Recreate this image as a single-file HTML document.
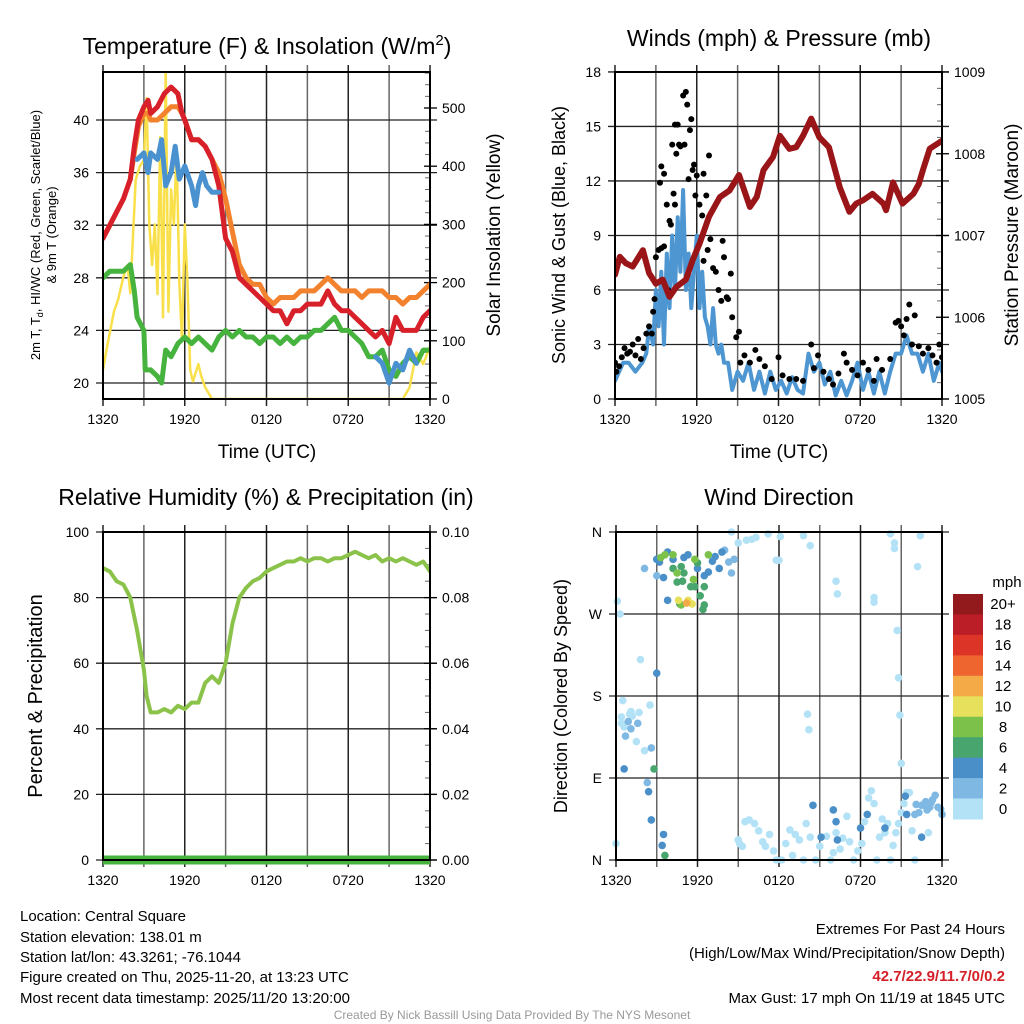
<!DOCTYPE html>
<html><head><meta charset="utf-8"><style>
html,body{margin:0;padding:0;background:#fff;}
svg{display:block;font-family:"Liberation Sans",Arial,sans-serif;}
</style></head><body>
<svg id="c" width="1024" height="1024" viewBox="0 0 1024 1024">
<text x="267" y="54" font-size="23" text-anchor="middle">Temperature (F) &amp; Insolation (W/m<tspan dy="-9" font-size="15">2</tspan><tspan dy="9">)</tspan></text>
<text x="779" y="46" font-size="23" text-anchor="middle">Winds (mph) &amp; Pressure (mb)</text>
<text x="266" y="505" font-size="23" text-anchor="middle">Relative Humidity (%) &amp; Precipitation (in)</text>
<text x="779" y="505" font-size="23" text-anchor="middle">Wind Direction</text>
<g id="layer"></g>
<g font-size="15">
<text x="20" y="921">Location: Central Square</text>
<text x="20" y="942">Station elevation: 138.01 m</text>
<text x="20" y="962">Station lat/lon: 43.3261; -76.1044</text>
<text x="20" y="982">Figure created on Thu, 2025-11-20, at 13:23 UTC</text>
<text x="20" y="1003">Most recent data timestamp: 2025/11/20 13:20:00</text>
</g>
<g font-size="15" text-anchor="end">
<text x="1005" y="934">Extremes For Past 24 Hours</text>
<text x="1005" y="958">(High/Low/Max Wind/Precipitation/Snow Depth)</text>
<text x="1005" y="981" fill="#d42028" font-weight="bold">42.7/22.9/11.7/0/0.2</text>
<text x="1005" y="1003">Max Gust: 17 mph On 11/19 at 1845 UTC</text>
</g>
<text x="512" y="1019" font-size="12" fill="#999" text-anchor="middle">Created By Nick Bassill Using Data Provided By The NYS Mesonet</text>
</svg>
<script>
// ---------- data ----------
const timeTicks = ["1320","1920","0120","0720","1320"];
const tHours = [0,0.5,1,1.5,2,2.3,2.6,3,3.3,3.5,4,4.5,5,5.5,5.8,6,6.5,7,7.5,8,8.5,9,9.5,10,10.5,11,11.5,12,12.5,13,13.5,14,14.5,15,15.5,16,16.5,17,17.5,18,18.5,19,19.5,20,20.5,21,21.5,22,22.5,23,23.5,24];
const tempRed = [31,32,33,34,35.5,38,40,41,41.5,40.5,41,42,42.5,42,40.5,40,38.5,38.5,38,37,35,31,30,28,27.5,27,26.5,26,25.5,25.5,24.5,25.5,25.5,26,26,26,27,26,25.5,25.5,25,24.5,24,23.5,24,23,25,24,24,24,25,25.5];
const tempOrange = [31,32,33,34,35.5,37.5,39.5,40.5,40.5,40,40,40.5,41,41,40.5,40,38.5,38.5,38,37,36,34,31.5,29,28,27.5,27.5,26.5,26,26.5,26.5,26.5,27,27,27,27.5,28,27.5,27,27,27,26.5,27,27,27,26.5,26.5,26,26.5,26.5,27,27.5];
const wcHours = [2.5,3,3.3,3.5,4,4.3,4.6,5,5.3,5.6,6,6.5,6.8,7,7.3,7.6,8,8.5,null,20,20.5,21,21.5,22,22.5,23];
const windChill = [37,37.5,36,37.5,37,38.5,35,36,38,35.5,36.5,35,33.5,35,36,35,34.5,34.5,null,22,21.5,20,21.5,21,22.5,21.5];
const dewHours = [0,0.5,1,1.5,2,2.3,2.5,3,3.1,3.5,4,4.3,4.6,5,5.5,6,6.5,7,7.5,8,8.5,9,9.5,10,10.5,11,11.5,12,12.5,13,13.5,14,14.5,15,15.5,16,16.5,17,17.5,18,18.5,19,19.5,20,20.5,21,21.5,22,22.5,23,23.5,24];
const dewGreen = [28,28.5,28.5,28.5,29,27,25,24,21,21,20.5,20,22.5,22,23,23.5,23,23.5,23,22.5,23.5,24,23.5,24,23.5,23.5,23,23.5,23.5,23,23.5,23,23.5,23.5,24,24,24.5,25,24,24,23.5,23,22,22,22.5,21,20.5,21.5,22,21.5,22.5,22.5];
const solarHours = [0,0.3,0.8,1.1,1.5,1.8,2,2.2,2.4,2.7,3,3.2,3.4,3.6,3.8,4,4.2,4.4,4.6,4.8,5,5.2,5.4,5.6,5.8,6,6.2,6.4,6.6,7,7.2,7.5,8,22,22.5,23,23.5,24];
const solar = [50,90,150,170,210,230,182,280,377,400,410,517,300,230,300,180,450,140,570,150,360,300,430,200,100,300,200,50,30,60,40,20,0,0,20,80,60,90];

const windHours = [0,0.3,0.6,1,1.5,2,2.3,2.5,2.8,3,3.2,3.4,3.6,3.8,4,4.2,4.4,4.6,4.8,5,5.2,5.4,5.6,5.8,6,6.2,6.4,6.6,6.8,7,7.2,7.4,7.6,7.8,8,8.3,8.6,9,9.4,9.8,10.2,10.6,11,11.4,11.8,12.2,12.6,13,13.4,13.8,14.2,14.6,15,15.4,15.8,16.2,16.6,17,17.4,17.8,18.2,18.6,19,19.4,19.8,20.2,20.6,21,21.4,21.8,22.2,22.6,23,23.4,23.8,24];
const windSpeed = [1,1.5,2,2,1.5,2,2.5,4,3,6,4,7,3,8,5,9,6,10,7,11.5,6,8,5,7,9,5,7,4.5,4,3,5,3,2.5,3,2,2,0.5,1.5,1,2,0.5,1.5,0.3,1.5,0.5,1,0.3,1.2,0.5,0.3,2.5,1.5,2,0.8,1.5,0.2,1,0.2,1,2,0.5,1.5,0.3,1.5,0.3,1.5,2.5,2.5,3.5,2.5,2.5,1.5,2.5,1,2,1.5];
const gustHours = [0,0.1,0.3,0.5,0.7,0.9,1.1,1.3,1.5,1.7,1.9,2.1,2.3,2.5,2.7,2.8,2.9,3.0,3.2,3.4,3.6,3.3,3.4,3.6,3.8,4.0,3.9,4.1,4.3,4.4,4.2,4.4,4.6,4.5,4.7,4.8,5,5.2,5.3,5.1,5.5,5.6,5.4,5.8,5.7,5.9,6.0,6.2,6.4,6.5,6.7,6.9,6.5,6.8,7.0,7.2,7.4,7.6,7.8,7.9,8,8.2,8.3,8.5,8.6,8.9,9.1,9.2,9.5,9.9,10.3,10.6,11,11.5,12,12.3,12.8,13.3,13.8,14.4,14.6,14.9,15.3,15.7,16,16.4,16.8,17,17.4,17.8,18.2,18.6,19,19.2,19.6,20.2,20.6,20.8,21,21.2,21.4,21.6,21.8,22,22.3,22.6,23,23.3,23.6,23.8,24];
const gustSpeed = [2,1.5,1.8,2.3,2.8,2.5,2.6,3,2.4,3.3,2.2,2.8,3.6,4,3.6,4.8,5.5,7.8,8.2,8.3,8.4,11.9,12.8,12.4,10.7,9.8,6,9.6,11.3,10.7,14,15.1,15.1,13.5,14,13.9,16.7,16.9,16.2,14,14.8,15.4,12.1,12.9,12.6,11.2,12.3,10.7,10.1,12.4,11.2,13.4,7.6,8.2,8.8,7.2,7,6,5.4,8.7,7.8,5.6,5.5,6.9,4.5,3.4,3.7,2,2.4,2,2.7,2.2,1.8,1.1,2.3,1.3,1.1,1.1,1,3,1.7,2.4,1.5,1.1,0.8,1.4,2.5,2,1.6,1.3,2,1.6,1,2.2,1.6,2.2,4.2,4.3,4,3.5,4.4,5.2,3,4.6,2.9,2.5,2.8,2.4,2,3,2.3];
const presHours = [0,0.35,0.8,1.3,2.05,2.5,3.0,3.5,4.0,4.5,5.2,5.7,6.2,6.9,7.7,8.4,9.1,9.9,10.4,10.9,11.6,12.1,12.8,13.3,13.8,14.4,15.0,15.7,16.5,17.2,17.7,18.2,18.9,19.7,19.9,20.4,21.1,21.9,22.3,22.6,23.1,24];
const pressure = [1006.52,1006.74,1006.66,1006.62,1006.82,1006.54,1006.41,1006.46,1006.25,1006.37,1006.46,1006.70,1006.90,1007.23,1007.47,1007.55,1007.74,1007.35,1007.47,1007.80,1007.96,1008.22,1008.06,1008.08,1008.22,1008.43,1008.20,1008.08,1007.59,1007.29,1007.39,1007.43,1007.51,1007.39,1007.31,1007.65,1007.39,1007.51,1007.63,1007.80,1008.06,1008.16];

const rhHours = [0,0.5,1,1.5,2,2.5,3,3.2,3.5,4,4.5,5,5.5,6,6.5,7,7.5,8,8.5,9,9.5,10,10.5,11,11.5,12,12.5,13,13.5,14,14.5,15,15.5,16,16.5,17,17.5,18,18.5,19,19.5,20,20.5,21,21.5,22,22.5,23,23.5,24];
const rh = [89,88,85,84,80,70,58,50,45,45,46,45,47,46,48,48,54,56,54,60,72,80,83,85,86,88,89,90,91,91,92,91,92,92,91,92,92,93,94,93,92,93,91,92,91,92,91,90,91,88];
const precipHours = [0,24];
const precip = [0,0];

const dirHours = [0,0.1,0.3,0.4,0.4,0.5,0.6,1,1.1,1.2,1.5,1.8,1.7,2.1,2.5,8.5,9,9.6,10,10.3,11.2,11.8,12,12.1,13.8,14.3,16.2,16.3,14.1,14.2,19,19,20.2,20.5,20.5,22.4,22.2,20.7,20.8,20.9,21,
9,9.1,9.3,9.5,9.8,10.2,10.5,10.8,11,11.3,11.6,11.8,12.2,12.5,12.8,13,13.2,13.5,13.8,14,14.3,14.7,15,15.5,15.8,16,16.2,16.5,16.7,17,17.2,17.5,17.8,18.1,18.3,18.6,18.8,19,19.2,19.4,19.6,19.8,20,20.2,20.4,20.6,20.8,21,21.2,21.4,21.6,21.8,22,23,
22,22.3,22.5,22.7,22.9,23.1,23.3,23.5,23.7,23.9,24,22.1,22.8,23.2,2.1,8.3,8,8.5,8.7,2.6,0.7,1.1,0.9,1.6,2.3,3,
3,3.2,3.8,4.2,3.5,3.8,5,5.3,6,6.5,6.8,7.3,7.6,7.8,7.1,0.6,2.4,2.6,3.5,3.4,3,14.5,15.1,16.3,16,18,18.5,19.8,21.3,22.5,21.4,16.2,
3.6,2.8,4.2,4.5,4.8,5.5,5.8,6.2,6.5,6.4,6.5,5,6,4.7,4.9,
3.3,3.6,4.2,4.5,5.7,5.8,6.8,4.8,
4.6,5.3,5.6,5.2];
const dirDeg = [18,284,270,150,157,175,146,160,163,158,130,220,162,120,170,360,348,351,352,354,358,329,329,355,356,345,306,292,160,143,288,283,358,348,342,356,322,252,200,159,106,
22,18,15,42,44,40,32,20,15,28,10,0,0,18,33,5,28,22,0,40,25,0,15,26,0,8,30,12,24,48,20,0,10,18,42,68,76,62,0,25,45,30,40,0,16,30,40,52,62,74,74,32,0,30,
50,52,60,62,55,58,66,71,58,56,50,61,64,63,320,327,340,315,330,123,136,144,152,150,85,312,
330,327,338,330,310,285,332,335,320,312,316,333,320,338,328,100,75,44,28,16,205,60,25,22,55,35,50,35,70,25,50,42,
5,100,320,305,322,300,300,290,300,275,280,315,326,281,306,
332,335,335,315,308,330,335,280,
285,285,281,282];
const dirSpeed = [0,0,0,0,0,0,0,0,0,0,0,0,0,0,0,0,0,0,0,0,0,0,0,0,0,0,0,0,0,0,0,0,0,0,0,0,0,0,0,0,0,
0,0,0,0,0,0,0,0,0,0,0,0,0,0,0,0,0,0,0,0,0,0,0,0,0,0,0,0,0,0,0,0,0,0,0,0,0,0,0,0,0,0,0,0,0,0,0,0,0,0,0,0,0,0,
2,2,2,2,2,2,2,2,2,2,2,2,2,2,2,2,2,2,2,2,2,2,2,2,2,2,
4,4,4,4,4,4,4,4,4,4,4,4,4,4,4,4,4,4,4,4,4,4,4,4,4,4,4,4,4,4,4,4,
6,6,6,6,6,6,6,6,6,6,6,6,6,6,6,
8,8,8,8,8,8,8,8,
10,10,10,12];
const cbLabels = ["20+","18","16","14","12","10","8","6","4","2","0"];
const cbColors = ["#931a1c","#bb1e26","#dd3428","#ef6530","#f5aa48","#e6e05c","#7cc24a","#49a56e","#4a8fc8","#7fb9e3","#b3e2f6"];

// ---------- drawing ----------
const NS="http://www.w3.org/2000/svg";
const layer=document.getElementById('layer');
function mk(tag,attrs,parent){const e=document.createElementNS(NS,tag);for(const k in attrs)e.setAttribute(k,attrs[k]);(parent||layer).appendChild(e);return e;}
function txt(x,y,s,size,anchor,rot,parent){const t=mk('text',{x:x,y:y,'font-size':size,'text-anchor':anchor||'middle'},parent);if(rot)t.setAttribute('transform','rotate(-90 '+x+' '+y+')');t.textContent=s;return t;}

function panel(L,T,R,B){
  const g=mk('g',{});
  const xs=h=>L+(R-L)*h/24;
  // vertical grid every 3h
  for(let i=0;i<=8;i++){const x=xs(i*3);
    const gl=mk('line',{x1:x,x2:x,y1:T-7,y2:B+7,stroke:(i%2?'#666':'#222'),'stroke-width':1.5},g);
    
    
  }
  for(let i=0;i<5;i++){const tl=txt(xs(i*6),B+25,timeTicks[i],14,'middle',false,g);
    
    }
  return {g,xs};
}
function frame(L,T,R,B){const f=mk('rect',{x:L,y:T,width:R-L,height:B-T,fill:'none',stroke:'#000','stroke-width':2});
  
  }
function hgrid(L,R,ys,vals,labels,side,g){
  vals.forEach((v,i)=>{const y=ys(v);
    const l=mk('line',{x1:L-7,x2:R+7,y1:y,y2:y,stroke:'#222','stroke-width':1.3},g);
    
    
    const t=txt(side==='r'?R+12:L-14,y+5,labels[i],14,side==='r'?'start':'end',false,g);
    
    });
}
function rightTicks(R,ys,vals,labels,minor,g){
  vals.forEach((v,i)=>{const y=ys(v);mk('line',{x1:R-6,x2:R+7,y1:y,y2:y,stroke:'#000','stroke-width':1.3},g);
    const t=txt(R+12,y+5,labels[i],14,'start',false,g);
    
    });
  minor.forEach(v=>{const y=ys(v);mk('line',{x1:R-5,x2:R,y1:y,y2:y,stroke:'#666','stroke-width':1},g);});
}
function path(xsArr,ysArr,xs,ys,attrs,name){
  let d='',pen=false;
  for(let i=0;i<xsArr.length;i++){if(xsArr[i]===null||ysArr[i]===null){pen=false;continue;}
    d+=(pen?'L':'M')+xs(xsArr[i]).toFixed(1)+' '+ys(ysArr[i]).toFixed(1);pen=true;}
  const p=mk('path',Object.assign({d:d,fill:'none','stroke-linejoin':'round','stroke-linecap':'round'},attrs));
  
  
  return p;
}
function clip(id,L,T,R,B){const c=mk('clipPath',{id:id});mk('rect',{x:L,y:T,width:R-L,height:B-T},c);}

// Panel 1: temperature
(function(){
  const L=103,T=72,R=430,B=399;
  const {g,xs}=panel(L,T,R,B);
  
  
  const ys=v=>383-(v-20)*13.15;
  const ysS=v=>399-v*0.582;
  hgrid(L,R,ys,[20,24,28,32,36,40],["20","24","28","32","36","40"],'l',g);
  const mn=[];for(let v=20;v<=560;v+=20)if(v%100)mn.push(v);
  rightTicks(R,ysS,[0,100,200,300,400,500],["0","100","200","300","400","500"],mn,g);
  clip('cp1',L,T,R,B);
  const sg=mk('g',{'clip-path':'url(#cp1)'});
  sg.appendChild(path(solarHours,solar,xs,ysS,{stroke:'#f9e04b','stroke-width':2.5},'solar-line'));
  sg.appendChild(path(dewHours,dewGreen,xs,ys,{stroke:'#45b33d','stroke-width':5},'dewpoint-line'));
  sg.appendChild(path(tHours,tempOrange,xs,ys,{stroke:'#f3822f','stroke-width':5},'temp-9m-line'));
  sg.appendChild(path(tHours,tempRed,xs,ys,{stroke:'#d7202a','stroke-width':5},'temp-2m-line'));
  sg.appendChild(path(wcHours,windChill,xs,ys,{stroke:'#4a92cf','stroke-width':5},'windchill-line'));
  frame(L,T,R,B);
  let t=txt(40,235,"2m T, T",13,'middle',true);
  t.innerHTML='2m T, T<tspan font-size="9" dy="3">d</tspan><tspan dy="-3">, HI/WC (Red, Green, Scarlet/Blue)</tspan>';
  
  t=txt(56,235,"& 9m T (Orange)",13,'middle',true);
  
  t=txt(500,235,"Solar Insolation (Yellow)",19,'middle',true);
  
  t=txt(267,458,"Time (UTC)",19);
  
})();

// Panel 2: winds
(function(){
  const L=615,T=72,R=942,B=399;
  const {g,xs}=panel(L,T,R,B);
  
  
  const ys=v=>399-v*18.17;
  const ysP=v=>399-(v-1005)*81.75;
  hgrid(L,R,ys,[0,3,6,9,12,15,18],["0","3","6","9","12","15","18"],'l',g);
  const mn=[];for(let v=1005;v<1009;v+=0.2)if(Math.abs(v-Math.round(v))>0.01)mn.push(v);
  rightTicks(R,ysP,[1005,1006,1007,1008,1009],["1005","1006","1007","1008","1009"],mn,g);
  clip('cp2',L,T,R,B);
  const sg=mk('g',{'clip-path':'url(#cp2)'});
  sg.appendChild(path(windHours,windSpeed,xs,ys,{stroke:'#4e96d1','stroke-width':4},'sonic-wind-line'));
  for(let i=0;i<gustHours.length;i++){
    const c=mk('circle',{cx:xs(gustHours[i]),cy:ys(gustSpeed[i]),r:3,fill:'#000'},sg);
    
    
  }
  sg.appendChild(path(presHours,pressure,xs,ysP,{stroke:'#9a1518','stroke-width':6},'pressure-line'));
  frame(L,T,R,B);
  let t=txt(565,235,"Sonic Wind & Gust (Blue, Black)",18,'middle',true);
  
  t=txt(1018,235,"Station Pressure (Maroon)",19,'middle',true);
  
  t=txt(779,458,"Time (UTC)",19);
  
})();

// Panel 3: RH
(function(){
  const L=103,T=532,R=430,B=860;
  const {g,xs}=panel(L,T,R,B);
  
  
  const ys=v=>860-v*3.28;
  const ysR=v=>860-v*3280;
  hgrid(L,R,ys,[0,20,40,60,80,100],["0","20","40","60","80","100"],'l',g);
  const mn=[];for(let v=0.005;v<0.1;v+=0.005)if(Math.abs(v*50-Math.round(v*50))>0.01)mn.push(v);
  rightTicks(R,ysR,[0,0.02,0.04,0.06,0.08,0.1],["0.00","0.02","0.04","0.06","0.08","0.10"],mn,g);
  clip('cp3',L,T-6,R,B+6);
  const sg=mk('g',{'clip-path':'url(#cp3)'});
  sg.appendChild(path(precipHours,precip,xs,ysR,{stroke:'#45b33d','stroke-width':9,'stroke-linecap':'butt'},'precip-line'));
  sg.appendChild(path(rhHours,rh,xs,ys,{stroke:'#8bc34a','stroke-width':4},'rh-line'));
  frame(L,T,R,B);
  const t=txt(42,696,"Percent & Precipitation",20,'middle',true);
  
})();

// Panel 4: wind direction
(function(){
  const L=616,T=532,R=942,B=860;
  const {g,xs}=panel(L,T,R,B);
  
  
  const ys=v=>860-v*(328/360);
  hgrid(L,R,ys,[0,90,180,270,360],["N","E","S","W","N"],'l',g);
  clip('cp4',L-5,T-5,R+5,B+5);
  const sg=mk('g',{'clip-path':'url(#cp4)'});
  const colorFor=s=>cbColors[10-Math.min(10,Math.floor(s/2))];
  for(let i=0;i<dirHours.length;i++){
    const c=mk('circle',{cx:xs(dirHours[i]),cy:ys(dirDeg[i]),r:3.8,fill:colorFor(dirSpeed[i])},sg);
    
    
  }
  frame(L,T,R,B);
  let t=txt(567,696,"Direction (Colored By Speed)",18,'middle',true);
  
  // colorbar
  const cb=mk('g',{});
  
  
  const h=225/11;
  cbColors.forEach((c,i)=>{mk('rect',{x:953,y:594+i*h,width:30,height:h+0.5,fill:c},cb);
    const l=txt(1003,594+i*h+h/2+5,cbLabels[i],15,'middle',false,cb);
    
    });
  t=txt(1007,587,"mph",15,'middle',false,cb);
  
})();
</script>
</body></html>
